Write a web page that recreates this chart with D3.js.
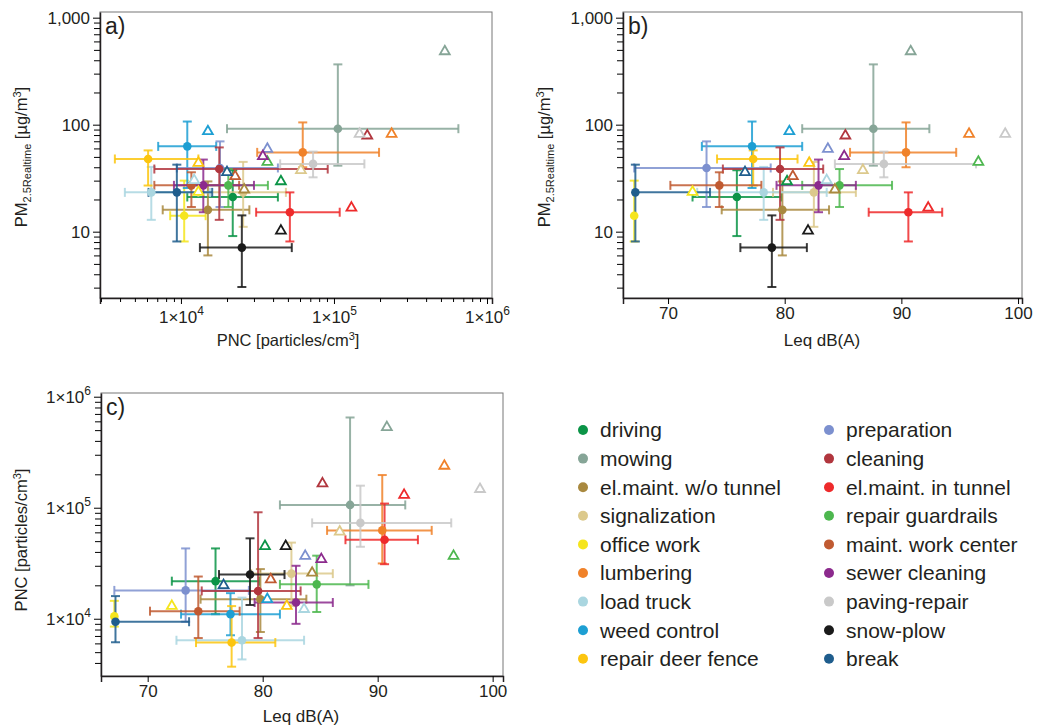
<!DOCTYPE html>
<html>
<head>
<meta charset="utf-8">
<script src="https://cdn.jsdelivr.net/npm/d3@7"></script>
<style>
  body { margin: 0; background: #fff; }
  text { font-family: "Liberation Sans", Arial, sans-serif; fill: #231f20; }
</style>
</head>
<body>
<div id="chart"></div>
<script>
const width = 1037, height = 727;

// activity categories (legend order) and their colours
const categories = ["driving", "mowing", "el.maint. w/o tunnel", "signalization", "office work",
  "lumbering", "load truck", "weed control", "repair deer fence", "preparation", "cleaning",
  "el.maint. in tunnel", "repair guardrails", "maint. work center", "sewer cleaning",
  "paving-repair", "snow-plow", "break"];
const colors = ["#0b9447", "#86a597", "#a9893f", "#dcc98c", "#f5e51d", "#f0822a", "#aad6e0",
  "#1d9fd3", "#fcc50f", "#7c90cf", "#b1363e", "#ee2a2b", "#4db74f", "#c05a31", "#8c2a8d",
  "#c9c9c9", "#1a1a1a", "#1f5d8d"];

// PM2.5 realtime [µg/m3]: mean, lower and upper error
const pmMean = [21.1, 91.7, 16.0, 23.3, 14.1, 55.1, 23.3, 62.7, 47.8, 39.4, 38.5, 15.2, 27.1, 27.1, 27.1, 43.0, 7.1, 23.3];
const pmLo   = [9.1, 41.4, 6.0, 11.1, 8.1, 40.0, 12.9, 25.6, 27.0, 17.0, 12.9, 8.1, 17.0, 17.0, 15.2, 32.2, 3.04, 8.1];
const pmHi   = [37.5, 366, 29.5, 44.9, 30.0, 105, 40.3, 107, 57.5, 69.8, 61.3, 23.3, 38.5, 35.9, 47.2, 56.0, 14.2, 42.3];

// PNC [particles/cm3]: mean, lower and upper error
const pncMean = [21800, 106000, 15000, 25500, 10500, 62500, 6400, 11000, 6100, 18000, 17800, 51500, 20400, 11700, 14000, 73000, 25000, 9400];
const pncLo   = [11000, 20000, 7600, 13000, 8500, 31500, 4300, 7100, 3700, 9400, 6700, 31000, 11500, 6700, 9000, 44500, 13300, 6140];
const pncHi   = [43000, 650000, 28000, 48500, 14500, 197000, 15500, 17000, 13000, 43000, 91000, 109000, 37000, 24000, 30000, 158000, 53000, 16000];

// Leq dB(A): mean, lower and upper error
const leqMean = [75.9, 87.6, 79.8, 82.5, 67.1, 90.4, 78.2, 77.2, 77.3, 73.3, 79.6, 90.6, 84.7, 74.4, 82.9, 88.5, 78.9, 67.2];
const leqLo   = [72.1, 81.5, 74.6, 79.0, 67.1, 85.6, 72.5, 72.9, 74.2, 67.1, 74.7, 87.2, 81.5, 70.2, 79.3, 84.3, 76.2, 67.2];
const leqHi   = [79.7, 92.4, 83.8, 86.1, 67.1, 94.7, 83.6, 81.5, 81.1, 78.8, 83.3, 93.5, 89.2, 78.0, 86.1, 96.4, 81.9, 73.6];

// open triangles
const pmTri  = [29.5, 484, 24.7, 37.5, 23.5, 81.9, 30.2, 86.6, 43.9, 59.3, 79, 16.7, 44.8, 32.9, 50.6, 81.9, 10.2, 35.9];
const pncTri = [45000, 530000, 25900, 60800, 13000, 238000, 12200, 15000, 13000, 36700, 165000, 130000, 36700, 22600, 34300, 147000, 45000, 20000];
const leqTri = [80.2, 90.8, 84.3, 86.7, 72.1, 95.8, 83.6, 80.4, 82.1, 83.7, 85.2, 92.3, 96.6, 80.7, 85.1, 98.9, 82.0, 76.6];

const rows = categories.map((name, i) => ({
  name, color: colors[i],
  pm: [pmMean[i], pmLo[i], pmHi[i], pmTri[i]],
  pnc: [pncMean[i], pncLo[i], pncHi[i], pncTri[i]],
  leq: [leqMean[i], leqLo[i], leqHi[i], leqTri[i]]
}));

const svg = d3.select("#chart")
  .append("svg")
    .attr("width", width)
    .attr("height", height);

const pmY = () => d3.scaleLog().domain([2.4, 1130]).range([298, 12]);

const panels = [
  { id: "a)", xKey: "pnc", yKey: "pm",
    x: d3.scaleLog().domain([2958, 1.078e6]).range([100, 492]), y: pmY() },
  { id: "b)", xKey: "leq", yKey: "pm",
    x: d3.scaleLinear().domain([66.14, 100.34]).range([623, 1022]), y: pmY() },
  { id: "c)", xKey: "leq", yKey: "pnc",
    x: d3.scaleLinear().domain([65.94, 100.9]).range([101, 503]),
    y: d3.scaleLog().domain([3050, 1.08e6]).range([676, 393]) }
];

// label like 1×10^5
const sciLabel = (sel, d) => {
  const e = Math.round(Math.log10(d));
  sel.text("1×10");
  sel.append("tspan").attr("dy", -8).attr("font-size", 12).text(e);
};

const minorTicks = (scale) => {
  const [a, b] = scale.domain();
  const out = [];
  for (let k = Math.floor(Math.log10(a)); k <= Math.ceil(Math.log10(b)); k++) {
    for (let m = 2; m <= 9; m++) {
      const v = m * Math.pow(10, k);
      if (v >= a && v <= b) out.push(v);
    }
  }
  return out;
};

const majorTicks = (scale) => {
  const [a, b] = scale.domain();
  const out = [];
  for (let k = Math.ceil(Math.log10(a)); k <= Math.floor(Math.log10(b)); k++) out.push(Math.pow(10, k));
  return out;
};

panels.forEach(p => {
  const g = svg.append("g");
  const [x0, x1] = p.x.range();
  const [y0, y1] = p.y.range();

  g.append("rect")
    .attr("x", x0).attr("y", y1)
    .attr("width", x1 - x0).attr("height", y0 - y1)
    .attr("fill", "none").attr("stroke", "#777").attr("stroke-width", 1);

  // bottom axis
  const logX = p.xKey === "pnc";
  const bottom = d3.axisBottom(p.x).tickSizeOuter(0).tickSize(6);
  if (logX) bottom.tickValues(majorTicks(p.x)).tickFormat("");
  else bottom.tickValues([70, 80, 90, 100]).tickFormat(d3.format("d"));
  const bx = g.append("g").attr("transform", `translate(0, ${y0})`).call(bottom);
  if (logX) {
    g.append("g").attr("transform", `translate(0, ${y0})`)
      .call(d3.axisBottom(p.x).tickValues(minorTicks(p.x)).tickFormat("").tickSize(4).tickSizeOuter(0))
      .select(".domain").remove();
    bx.selectAll(".tick").append("text")
      .attr("y", 25).attr("text-anchor", "middle").attr("fill", "#231f20")
      .each(function(d) { sciLabel(d3.select(this), d); });
  }
  bx.selectAll("text").attr("font-size", 17);

  // left axis
  const left = d3.axisLeft(p.y).tickValues(majorTicks(p.y)).tickSize(7).tickSizeOuter(0);
  if (p.yKey === "pm") left.tickFormat(d3.format(","));
  else left.tickFormat("");
  const ly = g.append("g").attr("transform", `translate(${x0}, 0)`).call(left);
  g.append("g").attr("transform", `translate(${x0}, 0)`)
    .call(d3.axisLeft(p.y).tickValues(minorTicks(p.y)).tickFormat("").tickSize(6).tickSizeOuter(0))
    .select(".domain").remove();
  if (p.yKey === "pnc") {
    ly.selectAll(".tick").append("text")
      .attr("x", -10).attr("dy", "0.32em").attr("text-anchor", "end").attr("fill", "#231f20")
      .each(function(d) { sciLabel(d3.select(this), d); });
  }
  ly.selectAll("text").attr("font-size", 17);
  g.selectAll(".domain").attr("stroke", "#231f20").attr("stroke-width", 1.5);

  // panel letter
  g.append("text").attr("x", x0 + 5).attr("y", y1 + 22)
    .attr("font-size", 23).text(p.id);

  // error bars
  const cap = 4.5;
  rows.forEach(r => {
    const [xm, xl, xh] = r[p.xKey];
    const [ym, yl, yh] = r[p.yKey];
    const eb = g.append("g")
      .attr("stroke", r.color).attr("stroke-width", 2).attr("stroke-opacity", 0.85).attr("fill", "none");
    if (xl !== xh) {
      eb.append("line").attr("x1", p.x(xl)).attr("x2", p.x(xh)).attr("y1", p.y(ym)).attr("y2", p.y(ym));
      [xl, xh].filter(v => v !== xm).forEach(v => eb.append("line")
        .attr("x1", p.x(v)).attr("x2", p.x(v)).attr("y1", p.y(ym) - cap).attr("y2", p.y(ym) + cap));
    }
    if (yl !== yh) {
      eb.append("line").attr("x1", p.x(xm)).attr("x2", p.x(xm)).attr("y1", p.y(yl)).attr("y2", p.y(yh));
      [yl, yh].filter(v => v !== ym).forEach(v => eb.append("line")
        .attr("x1", p.x(xm) - cap).attr("x2", p.x(xm) + cap).attr("y1", p.y(v)).attr("y2", p.y(v)));
    }
  });

  // mean points
  g.selectAll(".pt")
    .data(rows)
    .join("circle")
      .attr("cx", d => p.x(d[p.xKey][0]))
      .attr("cy", d => p.y(d[p.yKey][0]))
      .attr("r", 4.3)
      .attr("fill", d => d.color);

  // triangles
  g.selectAll(".tri")
    .data(rows)
    .join("path")
      .attr("d", d3.symbol(d3.symbolTriangle, 42))
      .attr("transform", d => `translate(${p.x(d[p.xKey][3])}, ${p.y(d[p.yKey][3])})`)
      .attr("fill", "#fff")
      .attr("stroke", d => d.color)
      .attr("stroke-width", 1.8);
});

// axis titles
const pmTitle = (x, y) => {
  const t = svg.append("text").attr("transform", `translate(${x}, ${y}) rotate(-90)`)
    .attr("text-anchor", "middle").attr("font-size", 16.5);
  t.append("tspan").text("PM");
  t.append("tspan").attr("font-size", 11).attr("dy", 4).text("2.5Realtime");
  t.append("tspan").attr("dy", -4).text(" [µg/m");
  t.append("tspan").attr("font-size", 11).attr("dy", -6).text("3");
  t.append("tspan").attr("dy", 6).text("]");
};
pmTitle(27, 157);
pmTitle(550, 157);

const pncTitle = (x, y, rotate) => {
  const t = svg.append("text")
    .attr("transform", `translate(${x}, ${y})${rotate ? " rotate(-90)" : ""}`)
    .attr("text-anchor", "middle").attr("font-size", 16.5);
  t.append("tspan").text("PNC [particles/cm");
  t.append("tspan").attr("font-size", 11).attr("dy", -6).text("3");
  t.append("tspan").attr("dy", 6).text("]");
};
pncTitle(288, 346, false);
pncTitle(27, 540, true);

svg.append("text").attr("x", 822).attr("y", 346).attr("text-anchor", "middle").attr("font-size", 17).text("Leq dB(A)");
svg.append("text").attr("x", 301).attr("y", 722).attr("text-anchor", "middle").attr("font-size", 17).text("Leq dB(A)");

// legend in two columns
const legend = svg.append("g");
rows.forEach((r, i) => {
  const col = i < 9 ? 0 : 1;
  const row = i % 9;
  const lx = col === 0 ? 583 : 829;
  const ly = 430 + row * 28.6;
  legend.append("circle").attr("cx", lx).attr("cy", ly).attr("r", 5).attr("fill", r.color);
  legend.append("text").attr("x", lx + 17).attr("y", ly).attr("dy", "0.35em")
    .attr("font-size", 21).text(r.name);
});
</script>
</body>
</html>
